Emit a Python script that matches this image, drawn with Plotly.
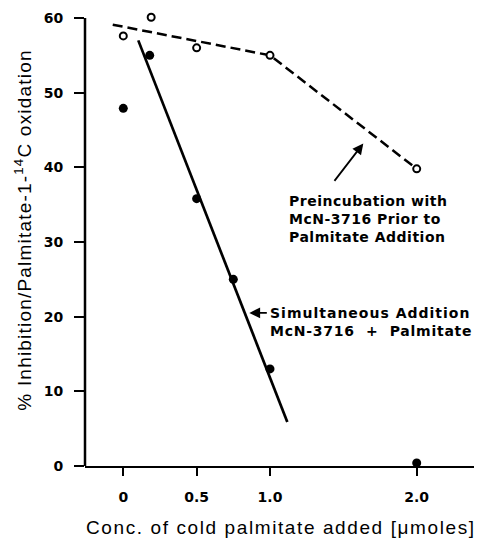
import plotly.graph_objects as go

# ---- data ----
pre_x = [0, 0.19, 0.5, 1.0, 2.0]
pre_y = [57.6, 60.1, 56.0, 55.0, 39.8]
pre_fit_x = [-0.072, 1.0, 2.0]
pre_fit_y = [59.1, 55.0, 39.8]

sim_x = [0, 0.18, 0.5, 0.75, 1.0, 2.0]
sim_y = [47.9, 55.0, 35.8, 25.0, 13.0, 0.4]
sim_fit_x = [0.102, 1.118]
sim_fit_y = [57.0, 5.9]

x_tickvals = [0, 0.5, 1.0, 2.0]
x_ticktext = ["0", "0.5", "1.0", "2.0"]
y_tickvals = [0, 10, 20, 30, 40, 50, 60]

x_title = "Conc. of cold palmitate added [μmoles]"
y_title = "% Inhibition/Palmitate-1-<sup>14</sup>C oxidation"
pre_label = ["Preincubation with", "McN-3716 Prior to", "Palmitate Addition"]
sim_label = ["Simultaneous Addition", "McN-3716\u00a0 +\u00a0 Palmitate"]


def spaced(lines, px):
    if not isinstance(px, (list, tuple)):
        px = [px] * len(lines)
    return "<br>".join(f"<span style='letter-spacing:{p}px'>{ln}</span>" for ln, p in zip(lines, px))


fig = go.Figure()
fig.add_trace(go.Scatter(x=pre_fit_x, y=pre_fit_y, mode="lines",
                         line=dict(color="black", width=2.5, dash="10px,5px"),
                         hoverinfo="skip", cliponaxis=False))
fig.add_trace(go.Scatter(x=sim_fit_x, y=sim_fit_y, mode="lines",
                         line=dict(color="black", width=2.7),
                         hoverinfo="skip", cliponaxis=False))
fig.add_trace(go.Scatter(x=pre_x, y=pre_y, mode="markers",
                         marker=dict(symbol="circle", size=7, color="white",
                                     line=dict(color="black", width=2)),
                         cliponaxis=False))
fig.add_trace(go.Scatter(x=sim_x, y=sim_y, mode="markers",
                         marker=dict(symbol="circle", size=9, color="black"),
                         cliponaxis=False))

bold = dict(family="DejaVu Sans", size=14, color="black", weight="bold")
reg = dict(family="Liberation Sans", size=19, color="black")

annotations = [
    # arrows
    dict(x=1.636, y=43.2, ax=-30, ay=39, xref="x", yref="y", text="",
         showarrow=True, arrowhead=2, arrowsize=1.2, arrowwidth=1.8, arrowcolor="black"),
    dict(x=0.859, y=20.5, ax=19, ay=0, xref="x", yref="y", text="",
         showarrow=True, arrowhead=2, arrowsize=1.2, arrowwidth=1.8, arrowcolor="black"),
    # labels
    dict(x=1.114, y=33.1, xref="x", yref="y", xanchor="left", yanchor="middle",
         align="left", showarrow=False, font=bold, text=spaced(pre_label, 0.5)),
    dict(x=0.988, y=19.3, xref="x", yref="y", xanchor="left", yanchor="middle",
         align="left", showarrow=False, font=bold, text=spaced(sim_label, [1, 0.75])),
    # axis titles
    dict(x=0.4937, y=-0.1344, xref="paper", yref="paper", xanchor="center", yanchor="middle",
         showarrow=False, font=reg, text=spaced([x_title], 1.6)),
    dict(x=-0.157, y=0.5198, xref="paper", yref="paper", xanchor="center", yanchor="middle",
         showarrow=False, font=reg, textangle=-90, text=spaced([y_title], 1.2)),
]

# y axis line only spans 0..60 (range leaves headroom for the point above 60)
shapes = [dict(type="line", xref="paper", yref="y", x0=0, x1=0,
               y0=y_tickvals[0], y1=y_tickvals[-1],
               line=dict(color="black", width=2.5), layer="above")]

# page body has an 8px margin: shrink the figure so it ends at the window edge
fig.update_layout(
    width=474, height=532,
    margin=dict(l=77, r=0, t=4, b=74),
    paper_bgcolor="white", plot_bgcolor="white",
    showlegend=False,
    annotations=annotations,
    shapes=shapes,
    xaxis=dict(range=[-0.261, 2.445], tickvals=x_tickvals, ticktext=x_ticktext,
               showline=True, linecolor="black", linewidth=2,
               ticks="outside", ticklen=8, tickwidth=2, tickcolor="black",
               ticklabelstandoff=9,
               showgrid=False, zeroline=False, tickfont=bold),
    yaxis=dict(range=[0, 60.8], tickvals=y_tickvals,
               showline=False,
               ticks="outside", ticklen=10, tickwidth=2, tickcolor="black",
               ticklabelstandoff=8,
               showgrid=False, zeroline=False, tickfont=bold),
)

fig.write_html("out.html")
